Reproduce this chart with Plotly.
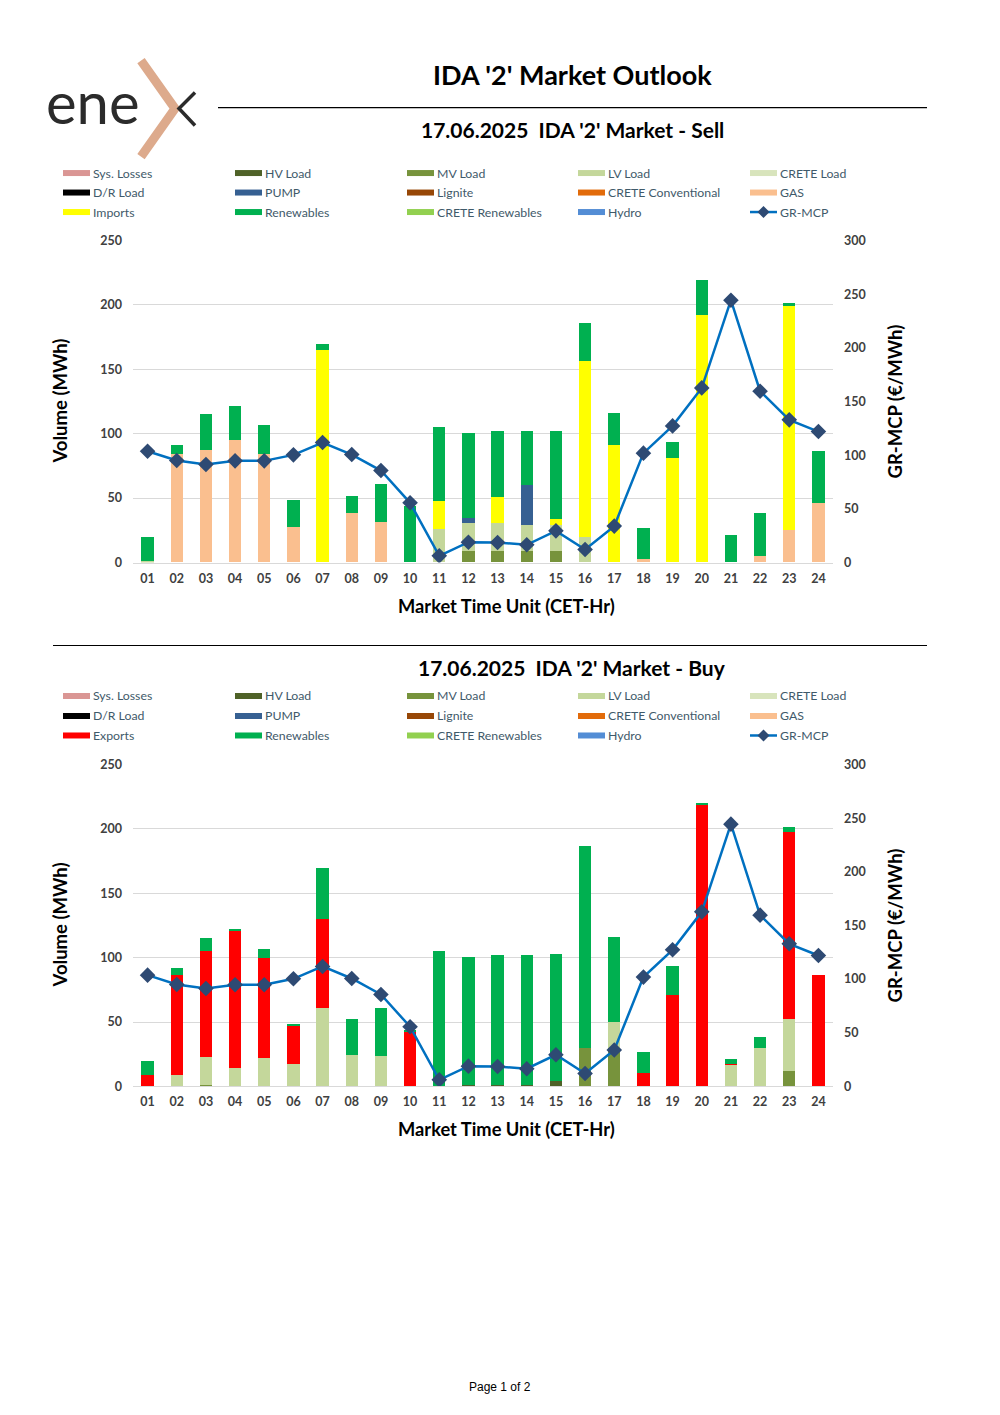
import plotly.graph_objects as go

# placement calibration of the 1000x1415 photograph
OFF_X = 8
TOP = 15.6
SY = 0.9894
W, H = 984, 1400

hours = [f"{i:02d}" for i in range(1, 25)]

# GR-MCP (€/MWh), same in both charts
gr_mcp = [103.7, 95.0, 91.3, 94.7, 94.7, 100.3, 111.8, 100.6, 85.7, 55.6, 6.2, 18.9,
          18.6, 16.5, 29.5, 12.1, 33.9, 101.9, 127.3, 162.7, 244.4, 159.6, 132.9, 122.0]

# ---- Sell (MWh)
sell_lv_load = [1.5, 0, 0, 0, 0, 0, 0, 0, 0, 0, 26, 22, 21.5, 20, 20, 19.7, 0, 0, 0, 0, 0, 0, 0, 0]
sell_mv_load = [0, 0, 0, 0, 0, 0, 0, 0, 0, 0, 0, 9, 9, 9, 9, 0, 0, 0, 0, 0, 0, 0, 0, 0]
sell_pump = [0, 0, 0, 0, 0, 0, 0, 0, 0, 0, 0, 3.9, 0, 31, 0, 0, 0, 0, 0, 0, 0, 0, 0, 0]
sell_gas = [0, 84, 87, 95, 84.6, 27.2, 0, 38.6, 31.8, 0, 0, 0, 0, 0, 0, 0, 0, 2.6, 0, 0, 0, 4.7, 25.4, 46.3]
sell_imports = [0, 0, 0, 0, 0, 0, 165, 0, 0, 0, 21.7, 0, 20.2, 0, 4.4, 137, 91, 0, 81, 191.8, 0, 0, 174, 0]
sell_renewables = [18.2, 7.5, 28, 26.4, 22, 21, 5, 13.4, 29, 43.7, 57.2, 65.7, 51.7, 42.2, 69, 29.5,
                   25, 24.3, 12.4, 27.4, 21.5, 33.9, 1.8, 40.4]

# ---- Buy (MWh)
buy_hv_load = [0, 0, 0, 0, 0, 0, 0, 0, 0, 0, 0, 1.5, 1.5, 1.5, 4.5, 0, 0, 0, 0, 0, 0, 0, 0, 0]
buy_mv_load = [0, 0, 0.8, 0, 0, 0, 0, 0, 0, 0, 0, 0, 0, 0, 0, 30, 30, 0, 0, 0, 0, 0, 11.9, 0]
buy_lv_load = [0, 9, 22, 14, 22.3, 17.6, 60.6, 24.4, 23.3, 0, 0, 0, 0, 0, 0, 0, 20, 0, 0, 0, 17.0, 29.5, 40.4, 0]
buy_exports = [8.8, 77.5, 82.4, 106.5, 77.2, 29.3, 69.2, 0, 0, 42.2, 0, 0, 0, 0, 0, 0, 0, 10.1, 70.7,
               218.4, 0.8, 0, 145.1, 86.8]
buy_renewables = [10.8, 5.2, 9.8, 1, 7.5, 1.3, 40.2, 27.7, 37.8, 1.8, 105.2, 99.3, 100.8, 100.8, 98.1,
                  156.5, 66.3, 16.8, 22.8, 1, 3.7, 9.1, 3.9, 0]

legend_sell = ["Sys. Losses", "HV Load", "MV Load", "LV Load", "CRETE Load",
               "D/R Load", "PUMP", "Lignite", "CRETE Conventional", "GAS",
               "Imports", "Renewables", "CRETE Renewables", "Hydro", "GR-MCP"]
legend_buy = ["Sys. Losses", "HV Load", "MV Load", "LV Load", "CRETE Load",
              "D/R Load", "PUMP", "Lignite", "CRETE Conventional", "GAS",
              "Exports", "Renewables", "CRETE Renewables", "Hydro", "GR-MCP"]

COLORS = {
    "Sys. Losses": "#DA9694", "HV Load": "#4F6228", "MV Load": "#77933C",
    "LV Load": "#C4D79B", "CRETE Load": "#D8E4BC", "D/R Load": "#000000",
    "PUMP": "#366092", "Lignite": "#974706", "CRETE Conventional": "#E26B0A",
    "GAS": "#FABF8F", "Imports": "#FFFF00", "Exports": "#FF0000",
    "Renewables": "#00B050", "CRETE Renewables": "#92D050", "Hydro": "#538DD5",
}
LINE_C = "#0070C0"
MARK_C = "#2E4A73"
FONT = "Lato"


def px(x):
    return (x - OFF_X) / W


def py(y):
    return 1 - (y / SY - TOP) / H


fig = go.Figure()

sell_series = [("MV Load", sell_mv_load), ("LV Load", sell_lv_load), ("PUMP", sell_pump),
               ("GAS", sell_gas), ("Imports", sell_imports), ("Renewables", sell_renewables)]
buy_series = [("HV Load", buy_hv_load), ("MV Load", buy_mv_load), ("LV Load", buy_lv_load),
              ("Exports", buy_exports), ("Renewables", buy_renewables)]

for name, vals in sell_series:
    fig.add_trace(go.Bar(x=hours, y=vals, name=name, marker_color=COLORS[name],
                         marker_line_width=0, xaxis="x", yaxis="y", showlegend=False))
fig.add_trace(go.Scatter(x=hours, y=gr_mcp, name="GR-MCP", mode="lines+markers",
                         line=dict(color=LINE_C, width=2.5),
                         marker=dict(symbol="diamond", size=12, color=MARK_C),
                         xaxis="x", yaxis="y2", showlegend=False))
for name, vals in buy_series:
    fig.add_trace(go.Bar(x=hours, y=vals, name=name, marker_color=COLORS[name],
                         marker_line_width=0, xaxis="x2", yaxis="y3", showlegend=False))
fig.add_trace(go.Scatter(x=hours, y=gr_mcp, name="GR-MCP", mode="lines+markers",
                         line=dict(color=LINE_C, width=2.5),
                         marker=dict(symbol="diamond", size=12, color=MARK_C),
                         xaxis="x2", yaxis="y4", showlegend=False))

tickfont = dict(family=FONT, size=12.5, color="#404040", weight="bold")
xdom = [px(133), px(833)]
sell_dom = [py(562), py(240)]
buy_dom = [py(1086), py(764)]

xcommon = dict(domain=xdom, type="category", range=[-0.5, 23.5], showgrid=False,
               showline=True, linecolor="#d9d9d9", linewidth=1, ticks="",
               tickfont=tickfont, ticklabelstandoff=4, fixedrange=True)
yleft = dict(range=[0, 250], dtick=50, showgrid=True, gridcolor="#d9d9d9", gridwidth=1,
             zeroline=False, showline=False, ticks="", tickfont=tickfont,
             ticklabelstandoff=10)
yright = dict(range=[0, 300], dtick=50, showgrid=False, zeroline=False, showline=False,
              ticks="", tickfont=tickfont, side="right", ticklabelstandoff=10)

fig.update_layout(
    width=W, height=H, margin=dict(l=0, r=0, t=0, b=0),
    paper_bgcolor="white", plot_bgcolor="white",
    barmode="stack", bargap=0.58, showlegend=False,
    font=dict(family=FONT),
    xaxis=dict(**xcommon, anchor="y"),
    yaxis=dict(**yleft, domain=sell_dom, anchor="x"),
    yaxis2=dict(**yright, domain=sell_dom, anchor="x", overlaying="y"),
    xaxis2=dict(**xcommon, anchor="y3"),
    yaxis3=dict(**yleft, domain=buy_dom, anchor="x2"),
    yaxis4=dict(**yright, domain=buy_dom, anchor="x2", overlaying="y3"),
)

ann = []
shapes = []


def text(x, y, s, size, color="#000000", bold=False, angle=0, xanchor="center",
         family=FONT, weight=None):
    ann.append(dict(x=px(x), y=py(y), xref="paper", yref="paper", text=s, showarrow=False,
                    xanchor=xanchor, yanchor="middle", textangle=angle,
                    font=dict(family=family, size=size, color=color,
                              weight=weight if weight is not None else ("bold" if bold else "normal"))))


# Logo
text(44, 101, "ene", 58, color="#2B2B2B", xanchor="left", weight="normal")
shapes.append(dict(type="path", xref="paper", yref="paper",
                   path=f"M {px(141)},{py(60)} L {px(175)},{py(108)} L {px(141)},{py(156)}",
                   line=dict(color="#DDAA8C", width=9)))
shapes.append(dict(type="path", xref="paper", yref="paper",
                   path=f"M {px(195)},{py(92)} L {px(179)},{py(108)} L {px(195)},{py(125)}",
                   line=dict(color="#2B2B2B", width=3.5)))

# Titles
text(572, 74, "IDA '2' Market Outlook", 27, bold=True)
shapes.append(dict(type="line", xref="paper", yref="paper", x0=px(218), x1=px(927),
                   y0=py(107), y1=py(107), line=dict(color="#000000", width=1.2)))
text(572, 129, "17.06.2025  IDA '2' Market - Sell", 21, bold=True)
shapes.append(dict(type="line", xref="paper", yref="paper", x0=px(53), x1=px(927),
                   y0=py(645), y1=py(645), line=dict(color="#000000", width=1.2)))
text(572, 667, "17.06.2025  IDA '2' Market - Buy", 21, bold=True)

# Axis titles
for ymid, xt in [(401, 606), (925, 1129)]:
    text(60, ymid, "Volume (MWh)", 18.5, bold=True, angle=-90)
    text(895, ymid, "GR-MCP (€/MWh)", 18.5, bold=True, angle=-90)
    text(506, xt, "Market Time Unit (CET-Hr)", 18.3, bold=True)

# Legends
cols = [63, 235, 407, 578, 750]


def legend(labels, rows_y):
    for i, lab in enumerate(labels):
        cx = cols[i % 5]
        cy = rows_y[i // 5]
        if lab == "GR-MCP":
            shapes.append(dict(type="line", xref="paper", yref="paper", x0=px(cx), x1=px(cx + 27),
                               y0=py(cy), y1=py(cy), line=dict(color=LINE_C, width=2.5)))
            shapes.append(dict(type="path", xref="paper", yref="paper",
                               path=(f"M {px(cx + 13.5)},{py(cy - 6)} L {px(cx + 19.5)},{py(cy)} "
                                     f"L {px(cx + 13.5)},{py(cy + 6)} L {px(cx + 7.5)},{py(cy)} Z"),
                               fillcolor=MARK_C, line=dict(width=0)))
        else:
            shapes.append(dict(type="rect", xref="paper", yref="paper", x0=px(cx), x1=px(cx + 27),
                               y0=py(cy + 3), y1=py(cy - 3), fillcolor=COLORS[lab],
                               line=dict(width=0)))
        text(cx + 27.5, cy, lab, 12.3, color="#3F5A6A", xanchor="left")


legend(legend_sell, [172.5, 192, 211.5])
legend(legend_buy, [695.5, 715.5, 735])

text(500, 1387, "Page 1 of 2", 12, color="#000000", family="Liberation Sans")

fig.update_layout(annotations=ann, shapes=shapes)
fig.write_html("out.html")
